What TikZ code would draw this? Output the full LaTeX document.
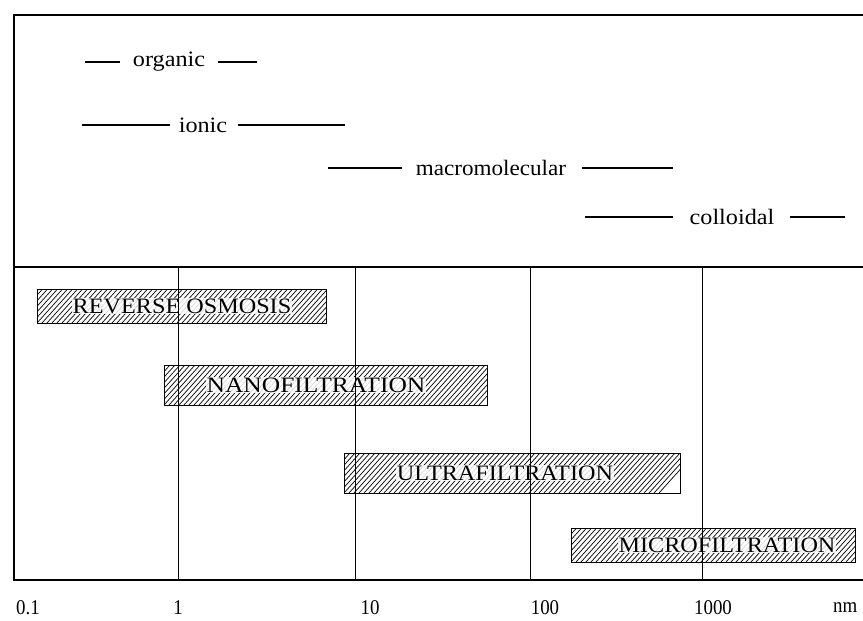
\documentclass[tikz,border=0pt]{standalone}
\usepackage{fontspec}
\setmainfont{Liberation Serif}
\begin{document}
\begin{tikzpicture}[x=1pt,y=-1pt,
  frame/.style={line width=2pt},
  grid/.style={line width=1pt},
  rng/.style={line width=1.2pt},
  hatch/.style={line width=0.7pt},
  barframe/.style={draw, line width=1pt},
  lbl/.style={font=\fontsize{22}{26}\selectfont, inner sep=0pt},
  bartext/.style={font=\fontsize{22}{26}\selectfont, fill=white, fill opacity=0.85, text opacity=1, inner sep=1pt},
  axl/.style={font=\fontsize{21}{25}\selectfont, inner sep=0pt}]
\useasboundingbox (0,0) rectangle (863,621);
% frame
\draw[frame] (863,15) -- (14,15) -- (14,580) -- (863,580);
\draw[frame] (14,267) -- (863,267);
% hatched bars
\foreach \xa/\ya/\xb/\yb in {37/289/326/323, 164/365/487/405, 344/453/680/493, 571/528/855/562}{
  \begin{scope}
    \clip (\xa,\ya) rectangle (\xb,\yb);
    \foreach \k in {0,5,...,360}{
      \draw[hatch] (\xa+\k-45,\yb) -- ++(45,-50);
    }
  \end{scope}
  \draw[barframe] (\xa,\ya) rectangle (\xb,\yb);
}
% grid
\foreach \x/\n in {178/g1,355/g2,530/g3,702/g4}{
  \coordinate (\n t) at (\x,267); \coordinate (\n b) at (\x,580);
}
% bar labels
\node[bartext] (ro) at (182,306) {\scalebox{1.1}[1]{REVERSE OSMOSIS}};
\node[bartext] (nf) at (316,385) {\scalebox{1.16}[1]{NANOFILTRATION}};
\node[bartext] (uf) at (505,473) {\scalebox{1.1}[1]{ULTRAFILTRATION}};
\node[bartext] (mf) at (727,545) {\scalebox{1.1}[1]{MICROFILTRATION}};
\foreach \n in {g1,g2,g3,g4}{ \draw[grid] (\n t) -- (\n b); }
% size ranges
\node[lbl] (org) at (169,62) {\scalebox{1.1}[1]{organic}};
\coordinate (orgL1) at (85,62); \coordinate (orgL2) at (120,62);
\coordinate (orgR1) at (218,62); \coordinate (orgR2) at (257,62);
\draw[rng] (orgL1) -- (orgL2); \draw[rng] (orgR1) -- (orgR2);
\node[lbl] (ion) at (203,125) {\scalebox{1.1}[1]{ionic}};
\coordinate (ionL1) at (82,125); \coordinate (ionL2) at (170,125);
\coordinate (ionR1) at (238,125); \coordinate (ionR2) at (345,125);
\draw[rng] (ionL1) -- (ionL2); \draw[rng] (ionR1) -- (ionR2);
\node[lbl] (mac) at (491,168) {\scalebox{1.05}[1]{macromolecular}};
\coordinate (macL1) at (328,168); \coordinate (macL2) at (402,168);
\coordinate (macR1) at (582,168); \coordinate (macR2) at (673,168);
\draw[rng] (macL1) -- (macL2); \draw[rng] (macR1) -- (macR2);
\node[lbl] (col) at (732,217) {\scalebox{1.1}[1]{colloidal}};
\coordinate (colL1) at (585,217); \coordinate (colL2) at (673,217);
\coordinate (colR1) at (790,217); \coordinate (colR2) at (845,217);
\draw[rng] (colL1) -- (colL2); \draw[rng] (colR1) -- (colR2);
% axis labels
\node[axl] (a0) at (28,608) {\scalebox{0.9}[1]{0.1}};
\node[axl] (a1) at (178,608) {\scalebox{0.9}[1]{1}};
\node[axl] (a2) at (370,608) {\scalebox{0.9}[1]{10}};
\node[axl] (a3) at (545,608) {\scalebox{0.9}[1]{100}};
\node[axl] (a4) at (713,608) {\scalebox{0.9}[1]{1000}};
\node[axl, anchor=west] (a5) at (833,608) {\scalebox{0.9}[1]{nm}};
\end{tikzpicture}
\end{document}
